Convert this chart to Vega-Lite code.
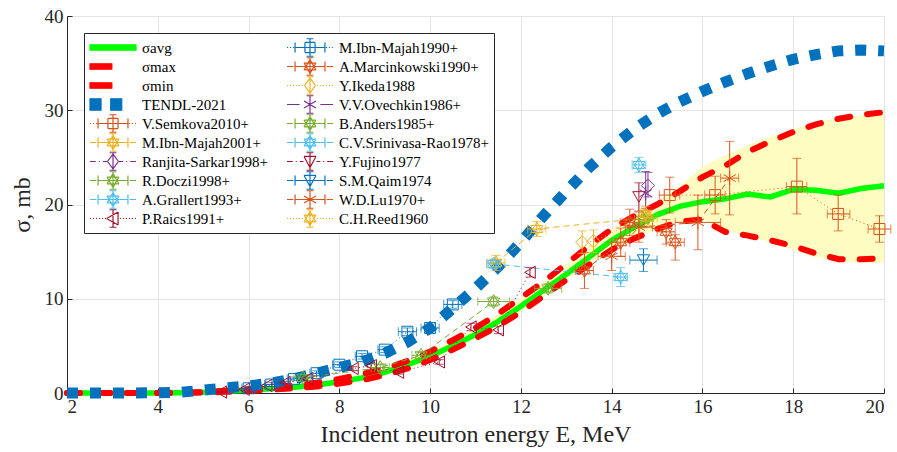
{
"$schema": "https://vega.github.io/schema/vega-lite/v6.json",
"width": 817, "height": 377,
"autosize": {"type": "none"},
"padding": {"left": 67, "top": 16, "right": 13, "bottom": 59},
"background": "white",
"config": {
  "view": {"stroke": null},
  "font": "Liberation Serif",
  "axis": {"grid": true, "gridColor": "#e4e4e4", "gridWidth": 1, "domainColor": "#262626", "tickColor": "#262626", "labelColor": "#262626", "titleColor": "#262626", "labelFont": "Liberation Serif", "labelFontSize": 19, "titleFont": "Liberation Serif", "titleFontSize": 24, "titleFontWeight": "normal", "tickSize": -5, "labelPadding": 9},
  "axisX": {"titlePadding": 6},
  "axisY": {"titlePadding": 10},
  "legend": {"orient": "none", "legendX": 17, "legendY": 17, "columns": 2, "columnPadding": 18, "rowPadding": 0, "symbolSize": 2116, "symbolStrokeWidth": 1.2, "symbolOpacity": 1, "clipHeight": 19, "labelFont": "Liberation Serif", "labelFontSize": 15, "labelColor": "#000000", "labelOffset": 5, "labelLimit": 400, "padding": 5, "strokeColor": "#262626", "fillColor": "#ffffff", "cornerRadius": 0}
},
"datasets": {
  "curves": [
    {"E":2,"avg":0,"smax":0,"smin":0,"tendl":0,"blo":0,"bhi":0},
    {"E":2.5,"avg":0,"smax":0,"smin":0,"tendl":0,"blo":0,"bhi":0},
    {"E":3,"avg":0,"smax":0,"smin":0,"tendl":0,"blo":0,"bhi":0},
    {"E":3.5,"avg":0,"smax":0,"smin":0,"tendl":0.01,"blo":0,"bhi":0},
    {"E":4,"avg":0,"smax":0,"smin":0,"tendl":0.02,"blo":0,"bhi":0},
    {"E":4.5,"avg":0.02,"smax":0.03,"smin":0.01,"tendl":0.08,"blo":0.01,"bhi":0.03},
    {"E":5,"avg":0.08,"smax":0.1,"smin":0.05,"tendl":0.3,"blo":0.05,"bhi":0.1},
    {"E":5.5,"avg":0.18,"smax":0.25,"smin":0.12,"tendl":0.55,"blo":0.12,"bhi":0.25},
    {"E":6,"avg":0.3,"smax":0.4,"smin":0.22,"tendl":0.75,"blo":0.22,"bhi":0.4},
    {"E":6.5,"avg":0.45,"smax":0.6,"smin":0.35,"tendl":1.05,"blo":0.35,"bhi":0.6},
    {"E":7,"avg":0.62,"smax":0.8,"smin":0.5,"tendl":1.5,"blo":0.5,"bhi":0.8},
    {"E":7.5,"avg":0.85,"smax":1.1,"smin":0.7,"tendl":2.1,"blo":0.7,"bhi":1.1},
    {"E":8,"avg":1.2,"smax":1.5,"smin":1.0,"tendl":2.7,"blo":1.0,"bhi":1.5},
    {"E":8.5,"avg":1.6,"smax":2.0,"smin":1.35,"tendl":3.3,"blo":1.35,"bhi":2.0},
    {"E":9,"avg":2.2,"smax":2.6,"smin":1.9,"tendl":4.2,"blo":1.9,"bhi":2.6},
    {"E":9.5,"avg":3.0,"smax":3.4,"smin":2.6,"tendl":5.4,"blo":2.6,"bhi":3.4},
    {"E":10,"avg":3.9,"smax":4.4,"smin":3.5,"tendl":6.9,"blo":3.5,"bhi":4.4},
    {"E":10.5,"avg":5.0,"smax":5.6,"smin":4.6,"tendl":9.0,"blo":4.6,"bhi":5.6},
    {"E":11,"avg":6.2,"smax":6.9,"smin":5.8,"tendl":11.1,"blo":5.8,"bhi":6.9},
    {"E":11.5,"avg":7.6,"smax":8.4,"smin":7.1,"tendl":13.4,"blo":7.1,"bhi":8.4},
    {"E":12,"avg":9.2,"smax":10.1,"smin":8.6,"tendl":16.0,"blo":8.6,"bhi":10.1},
    {"E":12.5,"avg":10.9,"smax":11.8,"smin":10.3,"tendl":18.8,"blo":10.3,"bhi":11.8},
    {"E":13,"avg":12.6,"smax":13.7,"smin":12.0,"tendl":21.4,"blo":12.0,"bhi":13.7},
    {"E":13.5,"avg":14.4,"smax":15.6,"smin":13.6,"tendl":23.9,"blo":13.6,"bhi":15.6},
    {"E":14,"avg":16.2,"smax":17.4,"smin":15.2,"tendl":26.1,"blo":15.2,"bhi":17.4},
    {"E":14.5,"avg":17.6,"smax":18.8,"smin":16.4,"tendl":28.0,"blo":16.4,"bhi":18.8},
    {"E":15,"avg":18.9,"smax":20.0,"smin":17.4,"tendl":29.6,"blo":17.4,"bhi":20.3},
    {"E":15.5,"avg":19.8,"smax":21.4,"smin":18.2,"tendl":30.9,"blo":18.2,"bhi":22.0},
    {"E":16,"avg":20.3,"smax":22.9,"smin":18.4,"tendl":32.0,"blo":18.4,"bhi":24.0},
    {"E":16.5,"avg":20.6,"smax":24.1,"smin":17.1,"tendl":33.0,"blo":17.3,"bhi":25.2},
    {"E":17,"avg":21.1,"smax":25.6,"smin":16.7,"tendl":33.9,"blo":16.6,"bhi":26.3},
    {"E":17.5,"avg":20.8,"smax":26.7,"smin":16.2,"tendl":34.7,"blo":16.0,"bhi":27.2},
    {"E":18,"avg":21.6,"smax":27.7,"smin":15.6,"tendl":35.4,"blo":15.2,"bhi":28.0},
    {"E":18.5,"avg":21.5,"smax":28.5,"smin":14.8,"tendl":35.9,"blo":14.4,"bhi":28.7},
    {"E":19,"avg":21.2,"smax":29.1,"smin":14.2,"tendl":36.3,"blo":14.0,"bhi":29.2},
    {"E":19.5,"avg":21.7,"smax":29.5,"smin":14.2,"tendl":36.4,"blo":13.8,"bhi":29.5},
    {"E":20,"avg":22.0,"smax":29.8,"smin":14.3,"tendl":36.3,"blo":13.8,"bhi":29.8}
  ],
  "exp": [
    {"series":"V.Semkova2010+","E":15.28,"s":21.0,"ylo":19.1,"yhi":22.9,"xlo":15.05,"xhi":15.5},
    {"series":"V.Semkova2010+","E":16.28,"s":21.0,"ylo":19.0,"yhi":23.0,"xlo":16.05,"xhi":16.5},
    {"series":"V.Semkova2010+","E":18.08,"s":21.9,"ylo":19.0,"yhi":24.9,"xlo":17.85,"xhi":18.3},
    {"series":"V.Semkova2010+","E":18.99,"s":19.0,"ylo":17.2,"yhi":21.0,"xlo":18.75,"xhi":19.25},
    {"series":"V.Semkova2010+","E":19.9,"s":17.4,"ylo":16.0,"yhi":18.8,"xlo":19.65,"xhi":20.15},
    {"series":"M.Ibn-Majah2001+","E":11.45,"s":13.8,"ylo":13.0,"yhi":14.6,"xlo":11.25,"xhi":11.65},
    {"series":"M.Ibn-Majah2001+","E":12.35,"s":17.4,"ylo":16.6,"yhi":18.2,"xlo":12.15,"xhi":12.55},
    {"series":"M.Ibn-Majah2001+","E":14.8,"s":18.6,"ylo":17.8,"yhi":19.4,"xlo":14.6,"xhi":15.0},
    {"series":"Ranjita-Sarkar1998+","E":14.8,"s":22.0,"ylo":20.8,"yhi":23.4},
    {"series":"R.Doczi1998+","E":7.2,"s":1.6,"ylo":1.4,"yhi":1.8,"xlo":7.0,"xhi":7.4},
    {"series":"R.Doczi1998+","E":8.9,"s":2.7,"ylo":2.4,"yhi":3.0,"xlo":8.7,"xhi":9.1},
    {"series":"R.Doczi1998+","E":9.8,"s":4.0,"ylo":3.7,"yhi":4.3,"xlo":9.6,"xhi":10.0},
    {"series":"R.Doczi1998+","E":11.4,"s":9.7,"ylo":9.2,"yhi":10.2,"xlo":11.05,"xhi":11.75},
    {"series":"A.Grallert1993+","E":14.6,"s":24.2,"ylo":23.4,"yhi":25.0,"xlo":14.45,"xhi":14.75},
    {"series":"P.Raics1991+","E":5.4,"s":0.1,"ylo":0.05,"yhi":0.15},
    {"series":"P.Raics1991+","E":5.9,"s":0.4,"ylo":0.3,"yhi":0.5},
    {"series":"P.Raics1991+","E":6.4,"s":0.8,"ylo":0.7,"yhi":0.9},
    {"series":"P.Raics1991+","E":6.8,"s":1.1,"ylo":1.0,"yhi":1.2},
    {"series":"P.Raics1991+","E":7.3,"s":1.5,"ylo":1.35,"yhi":1.65},
    {"series":"P.Raics1991+","E":8.3,"s":2.6,"ylo":2.4,"yhi":2.8},
    {"series":"P.Raics1991+","E":8.7,"s":2.9,"ylo":2.7,"yhi":3.1},
    {"series":"P.Raics1991+","E":9.3,"s":2.2,"ylo":2.0,"yhi":2.4},
    {"series":"P.Raics1991+","E":10.2,"s":3.3,"ylo":3.05,"yhi":3.55},
    {"series":"P.Raics1991+","E":10.9,"s":7.0,"ylo":6.6,"yhi":7.4},
    {"series":"P.Raics1991+","E":11.5,"s":6.7,"ylo":6.3,"yhi":7.1},
    {"series":"P.Raics1991+","E":12.2,"s":12.8,"ylo":12.3,"yhi":13.3},
    {"series":"M.Ibn-Majah1990+","E":6.0,"s":0.5,"ylo":0.3,"yhi":0.7,"xlo":5.85,"xhi":6.15},
    {"series":"M.Ibn-Majah1990+","E":6.5,"s":0.9,"ylo":0.7,"yhi":1.1,"xlo":6.35,"xhi":6.65},
    {"series":"M.Ibn-Majah1990+","E":7.0,"s":1.5,"ylo":1.3,"yhi":1.7,"xlo":6.85,"xhi":7.15},
    {"series":"M.Ibn-Majah1990+","E":7.5,"s":2.1,"ylo":1.85,"yhi":2.35,"xlo":7.35,"xhi":7.65},
    {"series":"M.Ibn-Majah1990+","E":8.0,"s":3.0,"ylo":2.7,"yhi":3.3,"xlo":7.85,"xhi":8.15},
    {"series":"M.Ibn-Majah1990+","E":8.5,"s":3.9,"ylo":3.6,"yhi":4.2,"xlo":8.35,"xhi":8.65},
    {"series":"M.Ibn-Majah1990+","E":9.0,"s":4.6,"ylo":4.3,"yhi":4.9,"xlo":8.85,"xhi":9.15},
    {"series":"M.Ibn-Majah1990+","E":9.5,"s":6.5,"ylo":6.1,"yhi":6.9,"xlo":9.3,"xhi":9.7},
    {"series":"M.Ibn-Majah1990+","E":10.0,"s":6.9,"ylo":6.5,"yhi":7.3,"xlo":9.8,"xhi":10.2},
    {"series":"M.Ibn-Majah1990+","E":10.5,"s":9.4,"ylo":9.0,"yhi":9.8,"xlo":10.3,"xhi":10.7},
    {"series":"A.Marcinkowski1990+","E":13.4,"s":13.0,"ylo":11.1,"yhi":14.9,"xlo":13.2,"xhi":13.6},
    {"series":"A.Marcinkowski1990+","E":14.2,"s":16.0,"ylo":14.5,"yhi":17.5,"xlo":14.0,"xhi":14.4},
    {"series":"A.Marcinkowski1990+","E":14.4,"s":18.1,"ylo":16.7,"yhi":19.5,"xlo":14.2,"xhi":14.6},
    {"series":"A.Marcinkowski1990+","E":15.2,"s":17.1,"ylo":15.8,"yhi":18.4,"xlo":15.0,"xhi":15.4},
    {"series":"A.Marcinkowski1990+","E":15.4,"s":16.0,"ylo":14.1,"yhi":16.8,"xlo":15.2,"xhi":15.6},
    {"series":"Y.Ikeda1988","E":13.35,"s":16.0,"ylo":14.8,"yhi":17.2},
    {"series":"Y.Ikeda1988","E":13.6,"s":16.1,"ylo":14.9,"yhi":17.3},
    {"series":"Y.Ikeda1988","E":14.7,"s":18.5,"ylo":17.5,"yhi":19.5},
    {"series":"V.V.Ovechkin1986+","E":14.75,"s":21.2,"ylo":19.6,"yhi":23.5},
    {"series":"B.Anders1985+","E":12.6,"s":11.1,"ylo":10.6,"yhi":11.6,"xlo":12.3,"xhi":12.9},
    {"series":"B.Anders1985+","E":14.7,"s":18.4,"ylo":17.6,"yhi":19.2,"xlo":14.5,"xhi":14.9},
    {"series":"C.V.Srinivasa-Rao1978+","E":11.4,"s":13.7,"ylo":13.2,"yhi":14.2,"xlo":11.25,"xhi":11.55},
    {"series":"C.V.Srinivasa-Rao1978+","E":14.2,"s":12.3,"ylo":11.3,"yhi":13.3,"xlo":14.05,"xhi":14.35},
    {"series":"Y.Fujino1977","E":14.6,"s":20.8,"ylo":19.3,"yhi":22.3},
    {"series":"S.M.Qaim1974","E":14.7,"s":14.1,"ylo":12.9,"yhi":15.3,"xlo":14.4,"xhi":15.0},
    {"series":"W.D.Lu1970+","E":14.0,"s":14.5,"ylo":13.0,"yhi":16.0,"xlo":13.7,"xhi":14.3},
    {"series":"W.D.Lu1970+","E":14.6,"s":17.6,"ylo":16.0,"yhi":19.2,"xlo":14.3,"xhi":14.9},
    {"series":"W.D.Lu1970+","E":15.9,"s":18.1,"ylo":15.2,"yhi":21.0,"xlo":15.4,"xhi":16.4},
    {"series":"W.D.Lu1970+","E":16.6,"s":22.8,"ylo":18.9,"yhi":26.7,"xlo":16.4,"xhi":16.8},
    {"series":"C.H.Reed1960","E":14.75,"s":19.0,"ylo":18.2,"yhi":19.8}
  ]
},
"layer": [
  {"data": {"name": "curves"}, "mark": {"type": "area", "color": "#fffcc2"},
   "encoding": {
     "x": {"field": "E", "type": "quantitative", "scale": {"domain": [2, 20], "nice": false, "zero": false}, "title": "Incident neutron energy E, MeV", "axis": {"values": [2,4,6,8,10,12,14,16,18,20]}},
     "y": {"field": "blo", "type": "quantitative", "scale": {"domain": [0, 40], "nice": false}, "title": "σ, mb", "axis": {"values": [0,10,20,30,40]}},
     "y2": {"field": "bhi"}}},
  {"data": {"name": "curves"}, "mark": {"type": "line", "color": "#00ff00", "strokeWidth": 5.5},
   "encoding": {
     "x": {"field": "E", "type": "quantitative", "scale": {"domain": [2, 20], "nice": false, "zero": false}, "title": "Incident neutron energy E, MeV"},
     "y": {"field": "avg", "type": "quantitative", "scale": {"domain": [0, 40], "nice": false}, "title": "σ, mb"}}},
  {"data": {"name": "curves"}, "mark": {"type": "line", "color": "#ff0000", "strokeWidth": 6, "strokeDash": [13, 17], "strokeCap": "round"},
   "encoding": {
     "x": {"field": "E", "type": "quantitative", "scale": {"domain": [2, 20], "nice": false, "zero": false}, "title": "Incident neutron energy E, MeV"},
     "y": {"field": "smax", "type": "quantitative", "scale": {"domain": [0, 40], "nice": false}, "title": "σ, mb"}}},
  {"data": {"name": "curves"}, "mark": {"type": "line", "color": "#ff0000", "strokeWidth": 6, "strokeDash": [13, 17], "strokeCap": "round"},
   "encoding": {
     "x": {"field": "E", "type": "quantitative", "scale": {"domain": [2, 20], "nice": false, "zero": false}, "title": "Incident neutron energy E, MeV"},
     "y": {"field": "smin", "type": "quantitative", "scale": {"domain": [0, 40], "nice": false}, "title": "σ, mb"}}},
  {"data": {"name": "curves"}, "mark": {"type": "line", "color": "#0072BD", "strokeWidth": 11, "strokeDash": [11, 12]},
   "encoding": {
     "x": {"field": "E", "type": "quantitative", "scale": {"domain": [2, 20], "nice": false, "zero": false}, "title": "Incident neutron energy E, MeV"},
     "y": {"field": "tendl", "type": "quantitative", "scale": {"domain": [0, 40], "nice": false}, "title": "σ, mb"}}},
  {"data": {"name": "exp"}, "mark": {"type": "line", "strokeWidth": 1},
   "encoding": {
     "x": {"field": "E", "type": "quantitative", "scale": {"domain": [2, 20], "nice": false, "zero": false}, "title": "Incident neutron energy E, MeV"},
     "y": {"field": "s", "type": "quantitative", "scale": {"domain": [0, 40], "nice": false}, "title": "σ, mb"},
     "detail": {"field": "series"},
     "color": {"field": "series", "type": "nominal", "title": null, "scale": {"domain": ["σavg","σmax","σmin","TENDL-2021","V.Semkova2010+","M.Ibn-Majah2001+","Ranjita-Sarkar1998+","R.Doczi1998+","A.Grallert1993+","P.Raics1991+","M.Ibn-Majah1990+","A.Marcinkowski1990+","Y.Ikeda1988","V.V.Ovechkin1986+","B.Anders1985+","C.V.Srinivasa-Rao1978+","Y.Fujino1977","S.M.Qaim1974","W.D.Lu1970+","C.H.Reed1960"], "range": ["#00ff00","#ff0000","#ff0000","#0072BD","#D95319","#EDB120","#7E2F8E","#77AC30","#4DBEEE","#A2142F","#0072BD","#D95319","#EDB120","#7E2F8E","#77AC30","#4DBEEE","#A2142F","#0072BD","#D95319","#EDB120"]}},
     "strokeDash": {"field": "series", "type": "nominal", "legend": null, "scale": {"domain": ["M.Ibn-Majah1990+","A.Marcinkowski1990+","Y.Ikeda1988","V.V.Ovechkin1986+","V.Semkova2010+","B.Anders1985+","M.Ibn-Majah2001+","C.V.Srinivasa-Rao1978+","Ranjita-Sarkar1998+","Y.Fujino1977","R.Doczi1998+","S.M.Qaim1974","A.Grallert1993+","W.D.Lu1970+","P.Raics1991+","C.H.Reed1960"], "range": [[1,3],[6,4],[1,3],[10,5],[1,3],[6,3,1,3],[6,4],[6,4],[6,3,1,3],[6,3,1,3],[6,4],[6,4],[6,4],[6,4],[1,3],[1,3]]}}}},
  {"data": {"name": "exp"}, "mark": {"type": "rule", "strokeWidth": 1},
   "encoding": {
     "x": {"field": "E", "type": "quantitative", "scale": {"domain": [2, 20], "nice": false, "zero": false}, "title": "Incident neutron energy E, MeV"},
     "y": {"field": "ylo", "type": "quantitative", "scale": {"domain": [0, 40], "nice": false}, "title": "σ, mb"},
     "y2": {"field": "yhi"},
     "color": {"field": "series", "type": "nominal", "title": null, "scale": {"domain": ["σavg","σmax","σmin","TENDL-2021","V.Semkova2010+","M.Ibn-Majah2001+","Ranjita-Sarkar1998+","R.Doczi1998+","A.Grallert1993+","P.Raics1991+","M.Ibn-Majah1990+","A.Marcinkowski1990+","Y.Ikeda1988","V.V.Ovechkin1986+","B.Anders1985+","C.V.Srinivasa-Rao1978+","Y.Fujino1977","S.M.Qaim1974","W.D.Lu1970+","C.H.Reed1960"], "range": ["#00ff00","#ff0000","#ff0000","#0072BD","#D95319","#EDB120","#7E2F8E","#77AC30","#4DBEEE","#A2142F","#0072BD","#D95319","#EDB120","#7E2F8E","#77AC30","#4DBEEE","#A2142F","#0072BD","#D95319","#EDB120"]}}}},
  {"data": {"name": "exp"}, "mark": {"type": "tick", "orient": "horizontal", "size": 9, "thickness": 1},
   "encoding": {
     "x": {"field": "E", "type": "quantitative", "scale": {"domain": [2, 20], "nice": false, "zero": false}, "title": "Incident neutron energy E, MeV"},
     "y": {"field": "ylo", "type": "quantitative", "scale": {"domain": [0, 40], "nice": false}, "title": "σ, mb"},
     "color": {"field": "series", "type": "nominal", "title": null, "scale": {"domain": ["σavg","σmax","σmin","TENDL-2021","V.Semkova2010+","M.Ibn-Majah2001+","Ranjita-Sarkar1998+","R.Doczi1998+","A.Grallert1993+","P.Raics1991+","M.Ibn-Majah1990+","A.Marcinkowski1990+","Y.Ikeda1988","V.V.Ovechkin1986+","B.Anders1985+","C.V.Srinivasa-Rao1978+","Y.Fujino1977","S.M.Qaim1974","W.D.Lu1970+","C.H.Reed1960"], "range": ["#00ff00","#ff0000","#ff0000","#0072BD","#D95319","#EDB120","#7E2F8E","#77AC30","#4DBEEE","#A2142F","#0072BD","#D95319","#EDB120","#7E2F8E","#77AC30","#4DBEEE","#A2142F","#0072BD","#D95319","#EDB120"]}}}},
  {"data": {"name": "exp"}, "mark": {"type": "tick", "orient": "horizontal", "size": 9, "thickness": 1},
   "encoding": {
     "x": {"field": "E", "type": "quantitative", "scale": {"domain": [2, 20], "nice": false, "zero": false}, "title": "Incident neutron energy E, MeV"},
     "y": {"field": "yhi", "type": "quantitative", "scale": {"domain": [0, 40], "nice": false}, "title": "σ, mb"},
     "color": {"field": "series", "type": "nominal", "title": null, "scale": {"domain": ["σavg","σmax","σmin","TENDL-2021","V.Semkova2010+","M.Ibn-Majah2001+","Ranjita-Sarkar1998+","R.Doczi1998+","A.Grallert1993+","P.Raics1991+","M.Ibn-Majah1990+","A.Marcinkowski1990+","Y.Ikeda1988","V.V.Ovechkin1986+","B.Anders1985+","C.V.Srinivasa-Rao1978+","Y.Fujino1977","S.M.Qaim1974","W.D.Lu1970+","C.H.Reed1960"], "range": ["#00ff00","#ff0000","#ff0000","#0072BD","#D95319","#EDB120","#7E2F8E","#77AC30","#4DBEEE","#A2142F","#0072BD","#D95319","#EDB120","#7E2F8E","#77AC30","#4DBEEE","#A2142F","#0072BD","#D95319","#EDB120"]}}}},
  {"data": {"name": "exp"}, "transform": [{"filter": "isValid(datum.xlo)"}], "mark": {"type": "rule", "strokeWidth": 1},
   "encoding": {
     "x": {"field": "xlo", "type": "quantitative", "scale": {"domain": [2, 20], "nice": false, "zero": false}, "title": "Incident neutron energy E, MeV"},
     "x2": {"field": "xhi"},
     "y": {"field": "s", "type": "quantitative", "scale": {"domain": [0, 40], "nice": false}, "title": "σ, mb"},
     "color": {"field": "series", "type": "nominal", "title": null, "scale": {"domain": ["σavg","σmax","σmin","TENDL-2021","V.Semkova2010+","M.Ibn-Majah2001+","Ranjita-Sarkar1998+","R.Doczi1998+","A.Grallert1993+","P.Raics1991+","M.Ibn-Majah1990+","A.Marcinkowski1990+","Y.Ikeda1988","V.V.Ovechkin1986+","B.Anders1985+","C.V.Srinivasa-Rao1978+","Y.Fujino1977","S.M.Qaim1974","W.D.Lu1970+","C.H.Reed1960"], "range": ["#00ff00","#ff0000","#ff0000","#0072BD","#D95319","#EDB120","#7E2F8E","#77AC30","#4DBEEE","#A2142F","#0072BD","#D95319","#EDB120","#7E2F8E","#77AC30","#4DBEEE","#A2142F","#0072BD","#D95319","#EDB120"]}}}},
  {"data": {"name": "exp"}, "transform": [{"filter": "isValid(datum.xlo)"}], "mark": {"type": "tick", "orient": "vertical", "size": 9, "thickness": 1},
   "encoding": {
     "x": {"field": "xlo", "type": "quantitative", "scale": {"domain": [2, 20], "nice": false, "zero": false}, "title": "Incident neutron energy E, MeV"},
     "y": {"field": "s", "type": "quantitative", "scale": {"domain": [0, 40], "nice": false}, "title": "σ, mb"},
     "color": {"field": "series", "type": "nominal", "title": null, "scale": {"domain": ["σavg","σmax","σmin","TENDL-2021","V.Semkova2010+","M.Ibn-Majah2001+","Ranjita-Sarkar1998+","R.Doczi1998+","A.Grallert1993+","P.Raics1991+","M.Ibn-Majah1990+","A.Marcinkowski1990+","Y.Ikeda1988","V.V.Ovechkin1986+","B.Anders1985+","C.V.Srinivasa-Rao1978+","Y.Fujino1977","S.M.Qaim1974","W.D.Lu1970+","C.H.Reed1960"], "range": ["#00ff00","#ff0000","#ff0000","#0072BD","#D95319","#EDB120","#7E2F8E","#77AC30","#4DBEEE","#A2142F","#0072BD","#D95319","#EDB120","#7E2F8E","#77AC30","#4DBEEE","#A2142F","#0072BD","#D95319","#EDB120"]}}}},
  {"data": {"name": "exp"}, "transform": [{"filter": "isValid(datum.xlo)"}], "mark": {"type": "tick", "orient": "vertical", "size": 9, "thickness": 1},
   "encoding": {
     "x": {"field": "xhi", "type": "quantitative", "scale": {"domain": [2, 20], "nice": false, "zero": false}, "title": "Incident neutron energy E, MeV"},
     "y": {"field": "s", "type": "quantitative", "scale": {"domain": [0, 40], "nice": false}, "title": "σ, mb"},
     "color": {"field": "series", "type": "nominal", "title": null, "scale": {"domain": ["σavg","σmax","σmin","TENDL-2021","V.Semkova2010+","M.Ibn-Majah2001+","Ranjita-Sarkar1998+","R.Doczi1998+","A.Grallert1993+","P.Raics1991+","M.Ibn-Majah1990+","A.Marcinkowski1990+","Y.Ikeda1988","V.V.Ovechkin1986+","B.Anders1985+","C.V.Srinivasa-Rao1978+","Y.Fujino1977","S.M.Qaim1974","W.D.Lu1970+","C.H.Reed1960"], "range": ["#00ff00","#ff0000","#ff0000","#0072BD","#D95319","#EDB120","#7E2F8E","#77AC30","#4DBEEE","#A2142F","#0072BD","#D95319","#EDB120","#7E2F8E","#77AC30","#4DBEEE","#A2142F","#0072BD","#D95319","#EDB120"]}}}},
  {"data": {"name": "exp"}, "transform": [{"filter": {"field": "series", "oneOf": ["V.Semkova2010+","M.Ibn-Majah1990+"]}}], "mark": {"type": "point", "shape": "square", "size": 120, "filled": false, "strokeWidth": 1, "opacity": 1},
   "encoding": {
     "x": {"field": "E", "type": "quantitative", "scale": {"domain": [2, 20], "nice": false, "zero": false}, "title": "Incident neutron energy E, MeV"},
     "y": {"field": "s", "type": "quantitative", "scale": {"domain": [0, 40], "nice": false}, "title": "σ, mb"},
     "color": {"field": "series", "type": "nominal", "title": null, "scale": {"domain": ["σavg","σmax","σmin","TENDL-2021","V.Semkova2010+","M.Ibn-Majah2001+","Ranjita-Sarkar1998+","R.Doczi1998+","A.Grallert1993+","P.Raics1991+","M.Ibn-Majah1990+","A.Marcinkowski1990+","Y.Ikeda1988","V.V.Ovechkin1986+","B.Anders1985+","C.V.Srinivasa-Rao1978+","Y.Fujino1977","S.M.Qaim1974","W.D.Lu1970+","C.H.Reed1960"], "range": ["#00ff00","#ff0000","#ff0000","#0072BD","#D95319","#EDB120","#7E2F8E","#77AC30","#4DBEEE","#A2142F","#0072BD","#D95319","#EDB120","#7E2F8E","#77AC30","#4DBEEE","#A2142F","#0072BD","#D95319","#EDB120"]}}}},
  {"data": {"name": "exp"}, "transform": [{"filter": {"field": "series", "oneOf": ["M.Ibn-Majah2001+","R.Doczi1998+","A.Grallert1993+","A.Marcinkowski1990+","B.Anders1985+","C.V.Srinivasa-Rao1978+","C.H.Reed1960"]}}], "mark": {"type": "point", "shape": "M0,-1L0.866,0.5L-0.866,0.5ZM0,1L0.866,-0.5L-0.866,-0.5Z", "size": 196, "filled": false, "strokeWidth": 1, "opacity": 1},
   "encoding": {
     "x": {"field": "E", "type": "quantitative", "scale": {"domain": [2, 20], "nice": false, "zero": false}, "title": "Incident neutron energy E, MeV"},
     "y": {"field": "s", "type": "quantitative", "scale": {"domain": [0, 40], "nice": false}, "title": "σ, mb"},
     "color": {"field": "series", "type": "nominal", "title": null, "scale": {"domain": ["σavg","σmax","σmin","TENDL-2021","V.Semkova2010+","M.Ibn-Majah2001+","Ranjita-Sarkar1998+","R.Doczi1998+","A.Grallert1993+","P.Raics1991+","M.Ibn-Majah1990+","A.Marcinkowski1990+","Y.Ikeda1988","V.V.Ovechkin1986+","B.Anders1985+","C.V.Srinivasa-Rao1978+","Y.Fujino1977","S.M.Qaim1974","W.D.Lu1970+","C.H.Reed1960"], "range": ["#00ff00","#ff0000","#ff0000","#0072BD","#D95319","#EDB120","#7E2F8E","#77AC30","#4DBEEE","#A2142F","#0072BD","#D95319","#EDB120","#7E2F8E","#77AC30","#4DBEEE","#A2142F","#0072BD","#D95319","#EDB120"]}}}},
  {"data": {"name": "exp"}, "transform": [{"filter": {"field": "series", "oneOf": ["Ranjita-Sarkar1998+","Y.Ikeda1988"]}}], "mark": {"type": "point", "shape": "diamond", "size": 170, "filled": false, "strokeWidth": 1, "opacity": 1},
   "encoding": {
     "x": {"field": "E", "type": "quantitative", "scale": {"domain": [2, 20], "nice": false, "zero": false}, "title": "Incident neutron energy E, MeV"},
     "y": {"field": "s", "type": "quantitative", "scale": {"domain": [0, 40], "nice": false}, "title": "σ, mb"},
     "color": {"field": "series", "type": "nominal", "title": null, "scale": {"domain": ["σavg","σmax","σmin","TENDL-2021","V.Semkova2010+","M.Ibn-Majah2001+","Ranjita-Sarkar1998+","R.Doczi1998+","A.Grallert1993+","P.Raics1991+","M.Ibn-Majah1990+","A.Marcinkowski1990+","Y.Ikeda1988","V.V.Ovechkin1986+","B.Anders1985+","C.V.Srinivasa-Rao1978+","Y.Fujino1977","S.M.Qaim1974","W.D.Lu1970+","C.H.Reed1960"], "range": ["#00ff00","#ff0000","#ff0000","#0072BD","#D95319","#EDB120","#7E2F8E","#77AC30","#4DBEEE","#A2142F","#0072BD","#D95319","#EDB120","#7E2F8E","#77AC30","#4DBEEE","#A2142F","#0072BD","#D95319","#EDB120"]}}}},
  {"data": {"name": "exp"}, "transform": [{"filter": {"field": "series", "oneOf": ["P.Raics1991+"]}}], "mark": {"type": "point", "shape": "triangle-left", "size": 150, "filled": false, "strokeWidth": 1, "opacity": 1},
   "encoding": {
     "x": {"field": "E", "type": "quantitative", "scale": {"domain": [2, 20], "nice": false, "zero": false}, "title": "Incident neutron energy E, MeV"},
     "y": {"field": "s", "type": "quantitative", "scale": {"domain": [0, 40], "nice": false}, "title": "σ, mb"},
     "color": {"field": "series", "type": "nominal", "title": null, "scale": {"domain": ["σavg","σmax","σmin","TENDL-2021","V.Semkova2010+","M.Ibn-Majah2001+","Ranjita-Sarkar1998+","R.Doczi1998+","A.Grallert1993+","P.Raics1991+","M.Ibn-Majah1990+","A.Marcinkowski1990+","Y.Ikeda1988","V.V.Ovechkin1986+","B.Anders1985+","C.V.Srinivasa-Rao1978+","Y.Fujino1977","S.M.Qaim1974","W.D.Lu1970+","C.H.Reed1960"], "range": ["#00ff00","#ff0000","#ff0000","#0072BD","#D95319","#EDB120","#7E2F8E","#77AC30","#4DBEEE","#A2142F","#0072BD","#D95319","#EDB120","#7E2F8E","#77AC30","#4DBEEE","#A2142F","#0072BD","#D95319","#EDB120"]}}}},
  {"data": {"name": "exp"}, "transform": [{"filter": {"field": "series", "oneOf": ["Y.Fujino1977","S.M.Qaim1974"]}}], "mark": {"type": "point", "shape": "triangle-down", "size": 150, "filled": false, "strokeWidth": 1, "opacity": 1},
   "encoding": {
     "x": {"field": "E", "type": "quantitative", "scale": {"domain": [2, 20], "nice": false, "zero": false}, "title": "Incident neutron energy E, MeV"},
     "y": {"field": "s", "type": "quantitative", "scale": {"domain": [0, 40], "nice": false}, "title": "σ, mb"},
     "color": {"field": "series", "type": "nominal", "title": null, "scale": {"domain": ["σavg","σmax","σmin","TENDL-2021","V.Semkova2010+","M.Ibn-Majah2001+","Ranjita-Sarkar1998+","R.Doczi1998+","A.Grallert1993+","P.Raics1991+","M.Ibn-Majah1990+","A.Marcinkowski1990+","Y.Ikeda1988","V.V.Ovechkin1986+","B.Anders1985+","C.V.Srinivasa-Rao1978+","Y.Fujino1977","S.M.Qaim1974","W.D.Lu1970+","C.H.Reed1960"], "range": ["#00ff00","#ff0000","#ff0000","#0072BD","#D95319","#EDB120","#7E2F8E","#77AC30","#4DBEEE","#A2142F","#0072BD","#D95319","#EDB120","#7E2F8E","#77AC30","#4DBEEE","#A2142F","#0072BD","#D95319","#EDB120"]}}}},
  {"data": {"name": "exp"}, "transform": [{"filter": {"field": "series", "oneOf": ["V.V.Ovechkin1986+","W.D.Lu1970+"]}}], "mark": {"type": "point", "shape": "M0,-1V1M-0.87,-0.5L0.87,0.5M-0.87,0.5L0.87,-0.5", "size": 196, "filled": false, "strokeWidth": 1, "opacity": 1},
   "encoding": {
     "x": {"field": "E", "type": "quantitative", "scale": {"domain": [2, 20], "nice": false, "zero": false}, "title": "Incident neutron energy E, MeV"},
     "y": {"field": "s", "type": "quantitative", "scale": {"domain": [0, 40], "nice": false}, "title": "σ, mb"},
     "color": {"field": "series", "type": "nominal", "title": null, "scale": {"domain": ["σavg","σmax","σmin","TENDL-2021","V.Semkova2010+","M.Ibn-Majah2001+","Ranjita-Sarkar1998+","R.Doczi1998+","A.Grallert1993+","P.Raics1991+","M.Ibn-Majah1990+","A.Marcinkowski1990+","Y.Ikeda1988","V.V.Ovechkin1986+","B.Anders1985+","C.V.Srinivasa-Rao1978+","Y.Fujino1977","S.M.Qaim1974","W.D.Lu1970+","C.H.Reed1960"], "range": ["#00ff00","#ff0000","#ff0000","#0072BD","#D95319","#EDB120","#7E2F8E","#77AC30","#4DBEEE","#A2142F","#0072BD","#D95319","#EDB120","#7E2F8E","#77AC30","#4DBEEE","#A2142F","#0072BD","#D95319","#EDB120"]}}}},
  {"data": {"values": [{"series": "σavg", "E": 2, "s": 0}]}, "mark": {"type": "point", "filled": false, "opacity": 0},
   "encoding": {
     "x": {"field": "E", "type": "quantitative", "scale": {"domain": [2, 20], "nice": false, "zero": false}, "title": "Incident neutron energy E, MeV"},
     "y": {"field": "s", "type": "quantitative", "scale": {"domain": [0, 40], "nice": false}, "title": "σ, mb"},
     "color": {"field": "series", "type": "nominal", "title": null, "scale": {"domain": ["σavg","σmax","σmin","TENDL-2021","V.Semkova2010+","M.Ibn-Majah2001+","Ranjita-Sarkar1998+","R.Doczi1998+","A.Grallert1993+","P.Raics1991+","M.Ibn-Majah1990+","A.Marcinkowski1990+","Y.Ikeda1988","V.V.Ovechkin1986+","B.Anders1985+","C.V.Srinivasa-Rao1978+","Y.Fujino1977","S.M.Qaim1974","W.D.Lu1970+","C.H.Reed1960"], "range": ["#00ff00","#ff0000","#ff0000","#0072BD","#D95319","#EDB120","#7E2F8E","#77AC30","#4DBEEE","#A2142F","#0072BD","#D95319","#EDB120","#7E2F8E","#77AC30","#4DBEEE","#A2142F","#0072BD","#D95319","#EDB120"]},
       "legend": {"title": null, "labelFont": "Liberation Serif", "labelFontSize": 15, "columnPadding": 18, "encode": {"symbols": {"fill": {"value": {"expr": "scale('color', datum.value)"}}, "stroke": {"value": {"expr": "scale('color', datum.value)"}}, "opacity": {"value": 1}}, "labels": {"font": {"value": "Liberation Serif"}, "fontSize": {"value": 15}, "fill": {"value": "#000000"}}}}},
     "shape": {"field": "series", "type": "nominal", "title": null,
       "scale": {"domain": ["σavg","σmax","σmin","TENDL-2021","V.Semkova2010+","M.Ibn-Majah2001+","Ranjita-Sarkar1998+","R.Doczi1998+","A.Grallert1993+","P.Raics1991+","M.Ibn-Majah1990+","A.Marcinkowski1990+","Y.Ikeda1988","V.V.Ovechkin1986+","B.Anders1985+","C.V.Srinivasa-Rao1978+","Y.Fujino1977","S.M.Qaim1974","W.D.Lu1970+","C.H.Reed1960"],
         "range": [
           "M-1,-0.12H1V0.12H-1Z",
           "M-1,-0.12H-0.05V0.12H-1Z",
           "M-1,-0.12H-0.05V0.12H-1Z",
           "M-1,-0.25H-0.52V0.25H-1ZM-0.1,-0.25H0.38V0.25H-0.1Z",
           "M-1,0H-0.95M-0.87,0H-0.82M-0.74,0H-0.69M0.69,0H0.74M0.82,0H0.87M0.95,0H1M-0.65,0H0.65M-0.65,-0.22V0.22M0.65,-0.22V0.22M0,-0.38V0.38M-0.15,-0.38H0.15M-0.15,0.38H0.15M-0.22,-0.22H0.22M0.22,-0.22V0.22M0.22,0.22H-0.22M-0.22,0.22V-0.22",
           "M-1,0H-0.72M0.72,0H1M-0.65,0H0.65M-0.65,-0.22V0.22M0.65,-0.22V0.22M0,-0.38V0.38M-0.15,-0.38H0.15M-0.15,0.38H0.15M0,-0.3L0.26,0.15M0.26,0.15L-0.26,0.15M-0.26,0.15L0,-0.3M0,0.3L0.26,-0.15M0.26,-0.15L-0.26,-0.15M-0.26,-0.15L0,0.3",
           "M-1,0H-0.75M-0.62,0H-0.57M-0.45,0H-0.25M0.25,0H0.45M0.57,0H0.62M0.75,0H1M0,-0.38V0.38M-0.15,-0.38H0.15M-0.15,0.38H0.15M0,-0.32L0.24,0M0.24,0L0,0.32M0,0.32L-0.24,0M-0.24,0L0,-0.32",
           "M-1,0H-0.72M0.72,0H1M-0.65,0H0.65M-0.65,-0.22V0.22M0.65,-0.22V0.22M0,-0.38V0.38M-0.15,-0.38H0.15M-0.15,0.38H0.15M0,-0.3L0.26,0.15M0.26,0.15L-0.26,0.15M-0.26,0.15L0,-0.3M0,0.3L0.26,-0.15M0.26,-0.15L-0.26,-0.15M-0.26,-0.15L0,0.3",
           "M-1,0H-0.72M0.72,0H1M-0.65,0H0.65M-0.65,-0.22V0.22M0.65,-0.22V0.22M0,-0.38V0.38M-0.15,-0.38H0.15M-0.15,0.38H0.15M0,-0.3L0.26,0.15M0.26,0.15L-0.26,0.15M-0.26,0.15L0,-0.3M0,0.3L0.26,-0.15M0.26,-0.15L-0.26,-0.15M-0.26,-0.15L0,0.3",
           "M-1,0H-0.95M-0.87,0H-0.82M-0.74,0H-0.69M-0.61,0H-0.56M-0.48,0H-0.43M-0.35,0H-0.3M0.3,0H0.35M0.43,0H0.48M0.56,0H0.61M0.69,0H0.74M0.82,0H0.87M0.95,0H1M0,-0.38V0.38M-0.15,-0.38H0.15M-0.15,0.38H0.15M-0.28,0L0.22,-0.28M0.22,-0.28V0.28M0.22,0.28L-0.28,0",
           "M-1,0H-0.95M-0.87,0H-0.82M-0.74,0H-0.69M0.69,0H0.74M0.82,0H0.87M0.95,0H1M-0.65,0H0.65M-0.65,-0.22V0.22M0.65,-0.22V0.22M0,-0.38V0.38M-0.15,-0.38H0.15M-0.15,0.38H0.15M-0.22,-0.22H0.22M0.22,-0.22V0.22M0.22,0.22H-0.22M-0.22,0.22V-0.22",
           "M-1,0H-0.72M0.72,0H1M-0.65,0H0.65M-0.65,-0.22V0.22M0.65,-0.22V0.22M0,-0.38V0.38M-0.15,-0.38H0.15M-0.15,0.38H0.15M0,-0.3L0.26,0.15M0.26,0.15L-0.26,0.15M-0.26,0.15L0,-0.3M0,0.3L0.26,-0.15M0.26,-0.15L-0.26,-0.15M-0.26,-0.15L0,0.3",
           "M-1,0H-0.95M-0.87,0H-0.82M-0.74,0H-0.69M-0.61,0H-0.56M-0.48,0H-0.43M-0.35,0H-0.3M0.3,0H0.35M0.43,0H0.48M0.56,0H0.61M0.69,0H0.74M0.82,0H0.87M0.95,0H1M0,-0.38V0.38M-0.15,-0.38H0.15M-0.15,0.38H0.15M0,-0.32L0.24,0M0.24,0L0,0.32M0,0.32L-0.24,0M-0.24,0L0,-0.32",
           "M-1,0H-0.45M0.45,0H1M0,-0.38V0.38M-0.15,-0.38H0.15M-0.15,0.38H0.15M0,-0.3V0.3M-0.26,-0.15L0.26,0.15M-0.26,0.15L0.26,-0.15",
           "M-1,0H-0.75M-0.62,0H-0.57M0.57,0H0.62M0.75,0H1M-0.65,0H0.65M-0.65,-0.22V0.22M0.65,-0.22V0.22M0,-0.38V0.38M-0.15,-0.38H0.15M-0.15,0.38H0.15M0,-0.3L0.26,0.15M0.26,0.15L-0.26,0.15M-0.26,0.15L0,-0.3M0,0.3L0.26,-0.15M0.26,-0.15L-0.26,-0.15M-0.26,-0.15L0,0.3",
           "M-1,0H-0.72M0.72,0H1M-0.65,0H0.65M-0.65,-0.22V0.22M0.65,-0.22V0.22M0,-0.38V0.38M-0.15,-0.38H0.15M-0.15,0.38H0.15M0,-0.3L0.26,0.15M0.26,0.15L-0.26,0.15M-0.26,0.15L0,-0.3M0,0.3L0.26,-0.15M0.26,-0.15L-0.26,-0.15M-0.26,-0.15L0,0.3",
           "M-1,0H-0.75M-0.62,0H-0.57M-0.45,0H-0.28M0.28,0H0.45M0.57,0H0.62M0.75,0H1M0,-0.38V0.38M-0.15,-0.38H0.15M-0.15,0.38H0.15M-0.26,-0.22H0.26M0.26,-0.22L0,0.26M0,0.26L-0.26,-0.22",
           "M-1,0H-0.72M0.72,0H1M-0.65,0H0.65M-0.65,-0.22V0.22M0.65,-0.22V0.22M0,-0.38V0.38M-0.15,-0.38H0.15M-0.15,0.38H0.15M-0.26,-0.22H0.26M0.26,-0.22L0,0.26M0,0.26L-0.26,-0.22",
           "M-1,0H-0.72M0.72,0H1M-0.65,0H0.65M-0.65,-0.22V0.22M0.65,-0.22V0.22M0,-0.38V0.38M-0.15,-0.38H0.15M-0.15,0.38H0.15M0,-0.3V0.3M-0.26,-0.15L0.26,0.15M-0.26,0.15L0.26,-0.15",
           "M-1,0H-0.95M-0.87,0H-0.82M-0.74,0H-0.69M-0.61,0H-0.56M-0.48,0H-0.43M-0.35,0H-0.3M0.3,0H0.35M0.43,0H0.48M0.56,0H0.61M0.69,0H0.74M0.82,0H0.87M0.95,0H1M0,-0.38V0.38M-0.15,-0.38H0.15M-0.15,0.38H0.15M0,-0.3L0.26,0.15M0.26,0.15L-0.26,0.15M-0.26,0.15L0,-0.3M0,0.3L0.26,-0.15M0.26,-0.15L-0.26,-0.15M-0.26,-0.15L0,0.3"
         ]},
       "legend": {"title": null, "labelFont": "Liberation Serif", "labelFontSize": 15, "columnPadding": 18, "encode": {"symbols": {"fill": {"value": {"expr": "scale('color', datum.value)"}}, "stroke": {"value": {"expr": "scale('color', datum.value)"}}, "opacity": {"value": 1}}, "labels": {"font": {"value": "Liberation Serif"}, "fontSize": {"value": 15}, "fill": {"value": "#000000"}}}}}}}
]
}
